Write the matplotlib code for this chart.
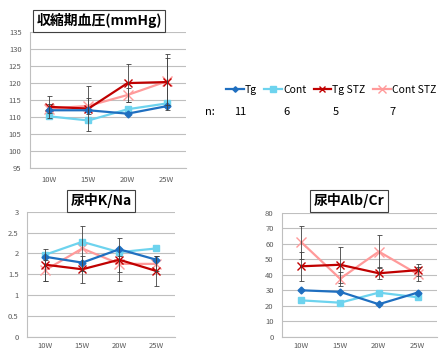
import matplotlib
matplotlib.use('Agg')
import matplotlib.pyplot as plt
from matplotlib.lines import Line2D
import numpy as np

plt.rcParams['font.family'] = ['Noto Sans CJK JP', 'DejaVu Sans']

weeks = ['10W', '15W', '20W', '25W']
groups = ['Tg', 'Cont', 'Tg STZ', 'Cont STZ']
n_counts = ['11', '6', '5', '7']

# 収縮期血圧
bp_tg = [112, 112, 111, 113.2]
bp_cont = [110.2, 109, 112.3, 114]
bp_tgstz = [113, 112.5, 120, 120.3]
bp_contstz = [112.5, 113.3, 116.5, 120.5]
bp_err_tgstz = [3.3, 6.5, 5.5, 8.3]
bp_err_contstz = [1.3, 2.3, 2.0, 7.0]

# 尿中K/Na
kna_tg = [1.92, 1.78, 2.1, 1.85]
kna_cont = [1.97, 2.28, 2.03, 2.12]
kna_tgstz = [1.73, 1.62, 1.85, 1.58]
kna_contstz = [1.6, 2.12, 1.75, 1.75]
kna_err_tgstz = [0.38, 0.32, 0.52, 0.36]
kna_err_contstz = [0.25, 0.53, 0.2, 0.18]

# 尿中Alb/Cr
alb_tg = [30, 29, 21, 28.5]
alb_cont = [23.5, 22, 28.5, 25.5]
alb_tgstz = [45.5, 46.5, 41, 43]
alb_contstz = [61, 37.5, 55, 40.5]
alb_err_tgstz = [9.5, 11.5, 4, 4]
alb_err_contstz = [10.5, 4.5, 10.5, 4.5]

c_tg = '#1f6fc0'
c_cont = '#6dd3ee'
c_tgstz = '#c00000'
c_contstz = '#ff9a9a'
grid_c = '#bfbfbf'
tick_c = '#595959'

styles = [
    dict(color=c_tg, marker='D', ms=3.5, lw=1.6),
    dict(color=c_cont, marker='s', ms=5, lw=1.6),
    dict(color=c_tgstz, marker='x', ms=5.5, mew=1.0, lw=1.6),
    dict(color=c_contstz, marker='x', ms=6.5, mew=1.0, lw=1.6),
]

fig = plt.figure(figsize=(4.4, 3.53), dpi=100)


def panel(rect, series, errs, ylim, yticks, ylabels, title, title_xy, xpad):
    ax = fig.add_axes(rect)
    x = np.arange(len(weeks))
    for i, (vals, st) in enumerate(zip(series, styles)):
        ax.plot(x, vals, zorder=3 + (3 - i), **st)
        if errs[i] is not None:
            ax.errorbar(x, vals, yerr=errs[i], fmt='none', ecolor='#404040',
                        elinewidth=0.6, capsize=1.8, capthick=0.6, zorder=8)
    ax.set_xlim(-0.5, 3.5)
    ax.set_ylim(*ylim)
    ax.set_yticks(yticks)
    ax.set_yticklabels(ylabels)
    ax.set_xticks(x)
    ax.set_xticklabels(weeks)
    ax.yaxis.grid(True, color=grid_c, lw=0.8)
    ax.set_axisbelow(True)
    for s in ['top', 'right']:
        ax.spines[s].set_visible(False)
    for s in ['left', 'bottom']:
        ax.spines[s].set_color(grid_c)
        ax.spines[s].set_linewidth(0.8)
    ax.tick_params(length=0, labelsize=5.5, labelcolor=tick_c)
    ax.tick_params(axis='x', pad=xpad)
    ax.tick_params(axis='y', pad=6)
    fig.text(title_xy[0], title_xy[1], title, ha='center', va='center',
             fontsize=10, fontweight='bold',
             bbox=dict(boxstyle='square,pad=0.25', fc='white', ec='#404040', lw=0.8))
    return ax


bp_ticks = list(range(95, 136, 5))
panel([0.068, 0.524, 0.355, 0.385],
      [bp_tg, bp_cont, bp_tgstz, bp_contstz],
      [None, None, bp_err_tgstz, bp_err_contstz],
      (95, 135), bp_ticks, [str(t) for t in bp_ticks],
      '収縮期血圧(mmHg)', (99 / 440, 1 - 21 / 353), 6)

kna_ticks = [0, 0.5, 1, 1.5, 2, 2.5, 3]
panel([0.061, 0.046, 0.336, 0.354],
      [kna_tg, kna_cont, kna_tgstz, kna_contstz],
      [None, None, kna_err_tgstz, kna_err_contstz],
      (0, 3), kna_ticks, ['0', '0.5', '1', '1.5', '2', '2.5', '3'],
      '尿中K/Na', (101 / 440, 1 - 201 / 353), 4)

alb_ticks = list(range(0, 81, 10))
panel([0.641, 0.046, 0.352, 0.351],
      [alb_tg, alb_cont, alb_tgstz, alb_contstz],
      [None, None, alb_err_tgstz, alb_err_contstz],
      (0, 80), alb_ticks, [str(t) for t in alb_ticks],
      '尿中Alb/Cr', (349 / 440, 1 - 201 / 353), 4)

handles = [Line2D([0], [0], **dict(st, ms=st['ms'] * 0.8)) for st in styles]
fig.legend(handles, groups, loc='center', bbox_to_anchor=(331 / 440, 1 - 90 / 353),
           ncol=4, frameon=False, fontsize=7.5, handlelength=1.7, handletextpad=0.1,
           columnspacing=0.7, borderaxespad=0, borderpad=0)

fig.text(210 / 440, 1 - 112 / 353, 'n:', ha='center', va='center', fontsize=8)
for xp, n in zip([240, 287, 336, 393], n_counts):
    fig.text(xp / 440, 1 - 112 / 353, n, ha='center', va='center', fontsize=8)

fig.savefig('out.png', dpi=100)
